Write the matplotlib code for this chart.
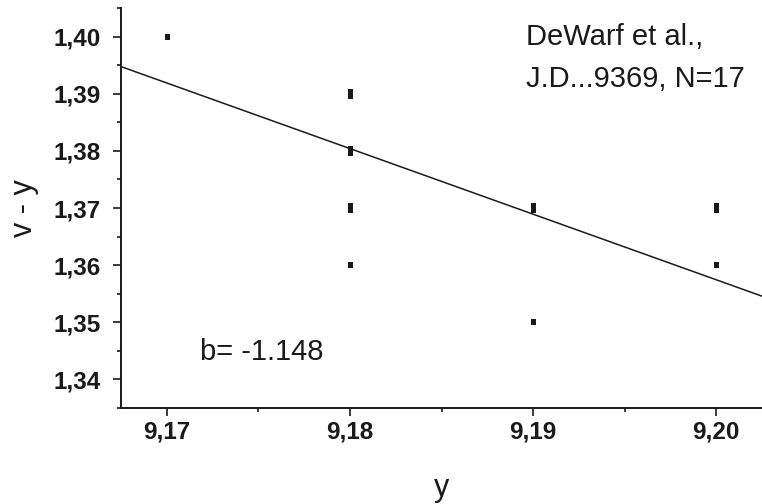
import numpy as np
import matplotlib.pyplot as plt
from matplotlib.ticker import MultipleLocator, FuncFormatter

plt.rcParams['font.family'] = ['Liberation Sans', 'DejaVu Sans']

# distinct measured points and how many stars fall on each
x_vals = [9.17, 9.18, 9.18, 9.18, 9.18, 9.19, 9.19, 9.20, 9.20]
y_vals = [1.40, 1.39, 1.38, 1.37, 1.36, 1.37, 1.35, 1.37, 1.36]
counts = [1, 2, 2, 3, 1, 3, 1, 3, 1]

slope = -1.148
x_ref, y_ref = 9.18, 1.3804   # point the fit line passes through

fig = plt.figure(figsize=(7.62, 5.04), dpi=100)
ax = fig.add_axes([0.1588, 0.1905, 0.8412, 0.7936])

ink = '#1a1a1a'

# small rectangles; stacked duplicates show as taller marks
short_rect = [(-0.36, -0.5), (0.36, -0.5), (0.36, 0.5), (-0.36, 0.5)]
tall_rect = [(-0.25, -0.5), (0.25, -0.5), (0.25, 0.5), (-0.25, 0.5)]
xs = np.array(x_vals)
ys = np.array(y_vals)
cs = np.array(counts)
ax.plot(xs[cs == 1], ys[cs == 1], linestyle='none', marker=short_rect,
        markersize=5.0, color=ink, markeredgewidth=0)
ax.plot(xs[cs > 1], ys[cs > 1], linestyle='none', marker=tall_rect,
        markersize=7.2, color=ink, markeredgewidth=0)

xl = np.array([9.1675, 9.2025])
ax.plot(xl, y_ref + slope * (xl - x_ref), color=ink, lw=1.1)

ax.set_xlim(9.1675, 9.2025)
ax.set_ylim(1.335, 1.405)

for s in ['top', 'right']:
    ax.spines[s].set_visible(False)
for s in ['left', 'bottom']:
    ax.spines[s].set_linewidth(1.4)
    ax.spines[s].set_color(ink)

ax.xaxis.set_major_locator(MultipleLocator(0.01))
ax.xaxis.set_minor_locator(MultipleLocator(0.005))
ax.yaxis.set_major_locator(MultipleLocator(0.01))
ax.yaxis.set_minor_locator(MultipleLocator(0.005))
comma = FuncFormatter(lambda v, p: f'{v:.2f}'.replace('.', ','))
ax.xaxis.set_major_formatter(comma)
ax.yaxis.set_major_formatter(comma)

ax.tick_params(which='major', direction='out', length=5.5, width=1.2, color=ink,
               labelsize=17.5, pad=3.5)
ax.tick_params(axis='y', which='major', pad=9)
ax.tick_params(which='minor', direction='out', length=3, width=1.2, color=ink)
for lab in ax.get_xticklabels() + ax.get_yticklabels():
    lab.set_fontweight('bold')
    lab.set_color(ink)

ax.set_xlabel('y', fontsize=22, color=ink, labelpad=21.5)
ax.set_ylabel('v - y', fontsize=22, color=ink, labelpad=10.5)

ax.text(9.1718, 1.3434, 'b= -1.148', fontsize=21, color=ink)
ax.text(9.1896, 1.3986, 'DeWarf et al.,', fontsize=21, color=ink)
ax.text(9.1896, 1.3911, 'J.D...9369, N=17', fontsize=21, color=ink)

fig.savefig('out.png', dpi=100)
